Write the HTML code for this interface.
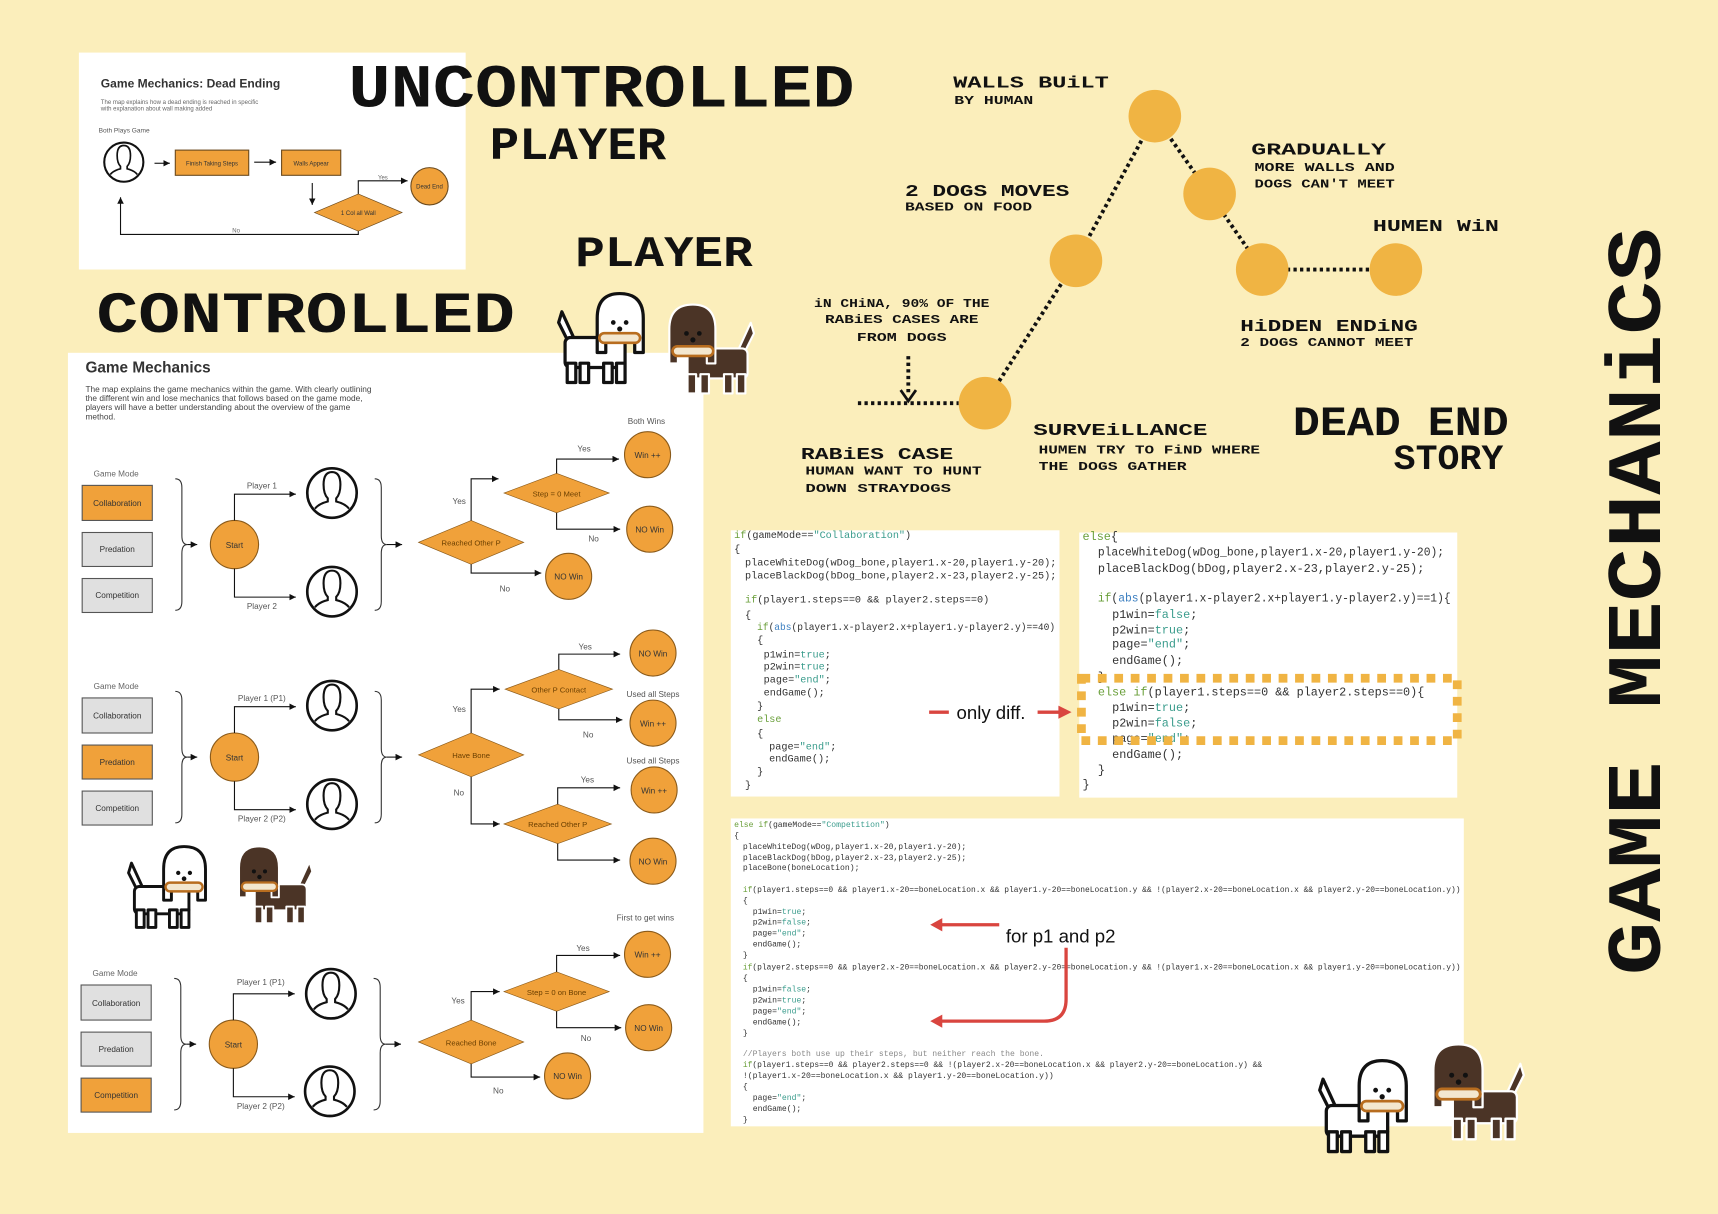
<!DOCTYPE html>
<html><head><meta charset="utf-8"><style>
html,body{margin:0;padding:0;background:#fbeebb;}
svg{display:block}
.px{font-family:"Liberation Mono",monospace;font-weight:bold;fill:#111}
.s{font-family:"Liberation Sans",sans-serif}
.c{font-family:"Liberation Mono",monospace;fill:#333}
.k{fill:#6a9f3a}.t{fill:#3a9c8c}.b{fill:#3a7ec0}.g{fill:#8a8a8a}
</style></head><body>
<svg width="1718" height="1214" viewBox="0 0 1568 1108" xmlns="http://www.w3.org/2000/svg">
<defs>
<marker id="ar" markerWidth="8" markerHeight="8" refX="6" refY="3" orient="auto" markerUnits="userSpaceOnUse"><path d="M0,0 L6,3 L0,6z" fill="#111"/></marker>
<clipPath id="pc"><circle r="22"/></clipPath>
<symbol id="person" viewBox="-25 -25 50 50" overflow="visible">
<circle r="23.5" fill="#fff" stroke="#111" stroke-width="2.5"/>
<g clip-path="url(#pc)" fill="none" stroke="#111" stroke-width="2">
<path d="M-8,-8 q0,-12 8,-12 q8,0 8,12 q0,9 -4,13 v3 q13,3 16,14 M-8,-8 q0,9 4,13 v3 q-13,3 -16,14"/>
</g>
</symbol>
<symbol id="dogshape" viewBox="0 0 90 90" overflow="visible">
<path d="M16,50 L6,30 L9,20 L20,44 Z"/>
<rect x="12" y="44" width="56" height="28" rx="5"/>
<rect x="14" y="68" width="8" height="18"/><rect x="26" y="68" width="8" height="18"/>
<rect x="48" y="68" width="8" height="18"/><rect x="60" y="68" width="8" height="18"/>
<path d="M42,58 V26 Q42,3 63,3 Q85,3 85,26 V58 H77 V42 H50 V58 Z"/>
</symbol>
<symbol id="wdog" viewBox="0 0 90 90" overflow="visible">
<use href="#dogshape" width="90" height="90" fill="#fff" stroke="#111" stroke-width="3" stroke-linejoin="round"/>
<circle cx="57" cy="30" r="2.2" fill="#111"/><circle cx="69" cy="30" r="2.2" fill="#111"/><circle cx="63" cy="36" r="2.4" fill="#111"/>
<rect x="44" y="40" width="38" height="9" rx="4.5" fill="#f3e7cf" stroke="#b86d1f" stroke-width="2.5"/>
</symbol>
<symbol id="bdog" viewBox="0 0 90 90" overflow="visible">
<g transform="translate(90,0) scale(-1,1)">
<use href="#dogshape" width="90" height="90" fill="#4b3426" stroke="#fff" stroke-width="2" stroke-linejoin="round"/>
<circle cx="57" cy="30" r="2.2" fill="#111"/><circle cx="69" cy="30" r="2.2" fill="#111"/><circle cx="63" cy="36" r="2.4" fill="#111"/>
<rect x="44" y="42" width="38" height="9" rx="4.5" fill="#f3e7cf" stroke="#b86d1f" stroke-width="2.5"/>
</g>
</symbol>
</defs>
<rect width="1568" height="1108" fill="#fbeebb"/>

<!-- Dead ending panel -->
<rect x="72" y="48" width="353" height="198" fill="#fff"/>
<g class="s">
<text x="92" y="80" font-size="11" font-weight="bold" fill="#333">Game Mechanics: Dead Ending</text>
<text x="92" y="95" font-size="5.5" fill="#666">The map explains how a dead ending is reached in specific</text>
<text x="92" y="101" font-size="5.5" fill="#666">with explanation about wall making added</text>
<text x="90" y="121" font-size="6" fill="#555">Both Plays Game</text>
<use href="#person" x="94" y="129" width="38" height="38"/>
<path d="M141,149 H155" stroke="#111" marker-end="url(#ar)"/>
<rect x="160" y="137" width="67" height="23" fill="#f0a13a" stroke="#6b4a1e"/>
<text x="193.5" y="151" font-size="5.5" text-anchor="middle" fill="#333">Finish Taking Steps</text>
<path d="M232,148 H252" stroke="#111" marker-end="url(#ar)"/>
<rect x="257" y="137" width="54" height="23" fill="#f0a13a" stroke="#6b4a1e"/>
<text x="284" y="151" font-size="5.5" text-anchor="middle" fill="#333">Walls Appear</text>
<path d="M285,167 V187" stroke="#111" marker-end="url(#ar)"/>
<polygon points="287,194 327,177 367,194 327,211" fill="#f0a13a" stroke="#6b4a1e" stroke-width=".6"/>
<text x="327" y="196" font-size="5.5" text-anchor="middle" fill="#333">1 Col all Wall</text>
<path d="M327,177 V165 H372" stroke="#111" fill="none" marker-end="url(#ar)"/>
<text x="345" y="164" font-size="5.5" fill="#666">Yes</text>
<circle cx="392" cy="170" r="17" fill="#f0a13a" stroke="#6b4a1e"/>
<text x="392" y="172" font-size="5.5" text-anchor="middle" fill="#333">Dead End</text>
<path d="M327,211 V214 H110 V180" stroke="#111" fill="none" marker-end="url(#ar)"/>
<text x="212" y="212" font-size="5.5" fill="#666">No</text>
</g>

<!-- Game Mechanics panel -->
<rect x="62" y="322" width="580" height="712" fill="#fff"/>
<g class="s">
<text x="78" y="340" font-size="14" font-weight="bold" fill="#333">Game Mechanics</text>
<text x="78" y="358" font-size="7.6" fill="#444">The map explains the game mechanics within the game. With clearly outlining</text>
<text x="78" y="366" font-size="7.6" fill="#444">the different win and lose mechanics that follows based on the game mode,</text>
<text x="78" y="374" font-size="7.6" fill="#444">players will have a better understanding about the overview of the game</text>
<text x="78" y="383" font-size="7.6" fill="#444">method.</text>
</g>

<g class="s" font-size="7.5" fill="#444">
<g>
<text x="106" y="435" text-anchor="middle" fill="#666">Game Mode</text>
<rect x="75" y="443" width="64" height="32" fill="#f0a13a" stroke="#555"/><text x="107" y="462" text-anchor="middle" fill="#333">Collaboration</text>
<rect x="75" y="486" width="64" height="31" fill="#e0e0e0" stroke="#555"/><text x="107" y="504" text-anchor="middle" fill="#333">Predation</text>
<rect x="75" y="528" width="64" height="31" fill="#e0e0e0" stroke="#555"/><text x="107" y="546" text-anchor="middle" fill="#333">Competition</text>
<path d="M160,437 q6,0 6,8 v44 q0,8 5,8 q-5,0 -5,8 v44 q0,8 -6,8" fill="none" stroke="#333"/>
<path d="M171,497 H180" stroke="#111" marker-end="url(#ar)"/>
<circle cx="214" cy="497" r="22" fill="#f0a13a" stroke="#8a5a1a"/><text x="214" y="500" text-anchor="middle" fill="#333">Start</text>
<path d="M214,475 V451 H270" fill="none" stroke="#111" marker-end="url(#ar)"/>
<path d="M214,519 V545 H270" fill="none" stroke="#111" marker-end="url(#ar)"/>
<text x="239" y="446" text-anchor="middle" fill="#555">Player 1</text>
<text x="239" y="556" text-anchor="middle" fill="#555">Player 2</text>
<use href="#person" x="279" y="426" width="48" height="48"/>
<use href="#person" x="279" y="516" width="48" height="48"/>
<path d="M342,437 q6,0 6,8 v44 q0,8 5,8 q-5,0 -5,8 v44 q0,8 -6,8" fill="none" stroke="#333"/>
<path d="M353,497 H367" stroke="#111" marker-end="url(#ar)"/>
</g>
<g transform="translate(0,194)">
<text x="106" y="435" text-anchor="middle" fill="#666">Game Mode</text>
<rect x="75" y="443" width="64" height="32" fill="#e0e0e0" stroke="#555"/><text x="107" y="462" text-anchor="middle" fill="#333">Collaboration</text>
<rect x="75" y="486" width="64" height="31" fill="#f0a13a" stroke="#555"/><text x="107" y="504" text-anchor="middle" fill="#333">Predation</text>
<rect x="75" y="528" width="64" height="31" fill="#e0e0e0" stroke="#555"/><text x="107" y="546" text-anchor="middle" fill="#333">Competition</text>
<path d="M160,437 q6,0 6,8 v44 q0,8 5,8 q-5,0 -5,8 v44 q0,8 -6,8" fill="none" stroke="#333"/>
<path d="M171,497 H180" stroke="#111" marker-end="url(#ar)"/>
<circle cx="214" cy="497" r="22" fill="#f0a13a" stroke="#8a5a1a"/><text x="214" y="500" text-anchor="middle" fill="#333">Start</text>
<path d="M214,475 V451 H270" fill="none" stroke="#111" marker-end="url(#ar)"/>
<path d="M214,519 V545 H270" fill="none" stroke="#111" marker-end="url(#ar)"/>
<text x="239" y="446" text-anchor="middle" fill="#555">Player 1 (P1)</text>
<text x="239" y="556" text-anchor="middle" fill="#555">Player 2 (P2)</text>
<use href="#person" x="279" y="426" width="48" height="48"/>
<use href="#person" x="279" y="516" width="48" height="48"/>
<path d="M342,437 q6,0 6,8 v44 q0,8 5,8 q-5,0 -5,8 v44 q0,8 -6,8" fill="none" stroke="#333"/>
<path d="M353,497 H367" stroke="#111" marker-end="url(#ar)"/>
</g>
<g transform="translate(-1,456)">
<text x="106" y="435" text-anchor="middle" fill="#666">Game Mode</text>
<rect x="75" y="443" width="64" height="32" fill="#e0e0e0" stroke="#555"/><text x="107" y="462" text-anchor="middle" fill="#333">Collaboration</text>
<rect x="75" y="486" width="64" height="31" fill="#e0e0e0" stroke="#555"/><text x="107" y="504" text-anchor="middle" fill="#333">Predation</text>
<rect x="75" y="528" width="64" height="31" fill="#f0a13a" stroke="#555"/><text x="107" y="546" text-anchor="middle" fill="#333">Competition</text>
<path d="M160,437 q6,0 6,8 v44 q0,8 5,8 q-5,0 -5,8 v44 q0,8 -6,8" fill="none" stroke="#333"/>
<path d="M171,497 H180" stroke="#111" marker-end="url(#ar)"/>
<circle cx="214" cy="497" r="22" fill="#f0a13a" stroke="#8a5a1a"/><text x="214" y="500" text-anchor="middle" fill="#333">Start</text>
<path d="M214,475 V451 H270" fill="none" stroke="#111" marker-end="url(#ar)"/>
<path d="M214,519 V545 H270" fill="none" stroke="#111" marker-end="url(#ar)"/>
<text x="239" y="443" text-anchor="middle" fill="#555">Player 1 (P1)</text>
<text x="239" y="556" text-anchor="middle" fill="#555">Player 2 (P2)</text>
<use href="#person" x="279" y="427" width="48" height="48"/>
<use href="#person" x="278" y="516" width="48" height="48"/>
<path d="M342,437 q6,0 6,8 v44 q0,8 5,8 q-5,0 -5,8 v44 q0,8 -6,8" fill="none" stroke="#333"/>
<path d="M353,497 H367" stroke="#111" marker-end="url(#ar)"/>
</g>

<polygon points="382,495 430,475 478,495 430,515" fill="#f0a13a" stroke="#8a5a1a" stroke-width=".6"/>
<text x="430" y="498" text-anchor="middle" font-size="7" fill="#6b3f00">Reached Other P</text>
<path d="M430,475 V437 H455" fill="none" stroke="#111" marker-end="url(#ar)"/><text x="413" y="460" fill="#555">Yes</text>
<path d="M430,515 V523 H494" fill="none" stroke="#111" marker-end="url(#ar)"/><text x="456" y="540" fill="#555">No</text>
<polygon points="460,450 508,432 556,450 508,468" fill="#f0a13a" stroke="#8a5a1a" stroke-width=".6"/>
<text x="508" y="453" text-anchor="middle" font-size="7" fill="#6b3f00">Step = 0 Meet</text>
<path d="M508,432 V419 H565" fill="none" stroke="#111" marker-end="url(#ar)"/><text x="527" y="412" fill="#555">Yes</text>
<path d="M508,468 V483 H566" fill="none" stroke="#111" marker-end="url(#ar)"/><text x="537" y="494" fill="#555">No</text>
<text x="590" y="387" text-anchor="middle" fill="#555">Both Wins</text>
<circle cx="591" cy="415" r="21" fill="#f0a13a" stroke="#8a5a1a"/><text x="591" y="418" text-anchor="middle" fill="#333">Win ++</text>
<circle cx="593" cy="483" r="21" fill="#f0a13a" stroke="#8a5a1a"/><text x="593" y="486" text-anchor="middle" fill="#333">NO Win</text>
<circle cx="519" cy="526" r="21" fill="#f0a13a" stroke="#8a5a1a"/><text x="519" y="529" text-anchor="middle" fill="#333">NO Win</text>

<polygon points="382,689 430,669 478,689 430,709" fill="#f0a13a" stroke="#8a5a1a" stroke-width=".6"/>
<text x="430" y="692" text-anchor="middle" font-size="7" fill="#6b3f00">Have Bone</text>
<path d="M430,669 V629 H456" fill="none" stroke="#111" marker-end="url(#ar)"/><text x="413" y="650" fill="#555">Yes</text>
<path d="M430,709 V752 H456" fill="none" stroke="#111" marker-end="url(#ar)"/><text x="414" y="726" fill="#555">No</text>
<polygon points="461,629 510,611 559,629 510,647" fill="#f0a13a" stroke="#8a5a1a" stroke-width=".6"/>
<text x="510" y="632" text-anchor="middle" font-size="7" fill="#6b3f00">Other P Contact</text>
<path d="M510,611 V597 H566" fill="none" stroke="#111" marker-end="url(#ar)"/><text x="528" y="593" fill="#555">Yes</text>
<path d="M510,647 V657 H568" fill="none" stroke="#111" marker-end="url(#ar)"/><text x="532" y="673" fill="#555">No</text>
<text x="596" y="636" text-anchor="middle" fill="#555">Used all Steps</text>
<circle cx="596" cy="596" r="21" fill="#f0a13a" stroke="#8a5a1a"/><text x="596" y="599" text-anchor="middle" fill="#333">NO Win</text>
<circle cx="596" cy="660" r="21" fill="#f0a13a" stroke="#8a5a1a"/><text x="596" y="663" text-anchor="middle" fill="#333">Win ++</text>
<polygon points="460,752 509,734 558,752 509,770" fill="#f0a13a" stroke="#8a5a1a" stroke-width=".6"/>
<text x="509" y="755" text-anchor="middle" font-size="7" fill="#6b3f00">Reached Other P</text>
<path d="M509,734 V719 H566" fill="none" stroke="#111" marker-end="url(#ar)"/><text x="530" y="714" fill="#555">Yes</text>
<path d="M509,770 V785 H566" fill="none" stroke="#111" marker-end="url(#ar)"/>
<text x="596" y="697" text-anchor="middle" fill="#555">Used all Steps</text>
<circle cx="597" cy="721" r="21" fill="#f0a13a" stroke="#8a5a1a"/><text x="597" y="724" text-anchor="middle" fill="#333">Win ++</text>
<circle cx="596" cy="786" r="21" fill="#f0a13a" stroke="#8a5a1a"/><text x="596" y="789" text-anchor="middle" fill="#333">NO Win</text>

<polygon points="382,951 430,931 478,951 430,971" fill="#f0a13a" stroke="#8a5a1a" stroke-width=".6"/>
<text x="430" y="954" text-anchor="middle" font-size="7" fill="#6b3f00">Reached Bone</text>
<path d="M430,931 V905 H456" fill="none" stroke="#111" marker-end="url(#ar)"/><text x="412" y="916" fill="#555">Yes</text>
<path d="M430,971 V983 H493" fill="none" stroke="#111" marker-end="url(#ar)"/><text x="450" y="998" fill="#555">No</text>
<polygon points="460,905 508,887 556,905 508,923" fill="#f0a13a" stroke="#8a5a1a" stroke-width=".6"/>
<text x="508" y="908" text-anchor="middle" font-size="7" fill="#6b3f00">Step = 0 on Bone</text>
<path d="M508,887 V872 H566" fill="none" stroke="#111" marker-end="url(#ar)"/><text x="526" y="868" fill="#555">Yes</text>
<path d="M508,923 V938 H567" fill="none" stroke="#111" marker-end="url(#ar)"/><text x="530" y="950" fill="#555">No</text>
<text x="589" y="840" text-anchor="middle" fill="#555">First to get wins</text>
<circle cx="591" cy="871" r="21" fill="#f0a13a" stroke="#8a5a1a"/><text x="591" y="874" text-anchor="middle" fill="#333">Win ++</text>
<circle cx="592" cy="938" r="21" fill="#f0a13a" stroke="#8a5a1a"/><text x="592" y="941" text-anchor="middle" fill="#333">NO Win</text>
<circle cx="518" cy="982" r="21" fill="#f0a13a" stroke="#8a5a1a"/><text x="518" y="985" text-anchor="middle" fill="#333">NO Win</text>
</g>

<text class="px" x="318" y="97" font-size="56" textLength="462" lengthAdjust="spacingAndGlyphs">UNCONTROLLED</text>
<text class="px" x="447" y="145" font-size="42" textLength="161" lengthAdjust="spacingAndGlyphs">PLAYER</text>
<text class="px" x="525" y="243" font-size="40" textLength="162" lengthAdjust="spacingAndGlyphs">PLAYER</text>
<text class="px" x="88" y="303" font-size="53" textLength="382" lengthAdjust="spacingAndGlyphs">CONTROLLED</text>
<text class="px" x="1180" y="397" font-size="38" textLength="197" lengthAdjust="spacingAndGlyphs">DEAD END</text>
<text class="px" x="1272" y="428" font-size="32" textLength="100" lengthAdjust="spacingAndGlyphs">STORY</text>
<text class="px" transform="translate(1515,890) rotate(-90)" font-size="70" textLength="682" lengthAdjust="spacingAndGlyphs">GAME MECHANiCS</text>

<g stroke="#111" stroke-width="3.5" stroke-dasharray="3 3" fill="none">
<path d="M899,368 L982,238 L1054,106 L1104,177 L1152,246 L1274,246"/>
<path d="M783,368 H875"/>
<path d="M829,325 V360"/>
</g>
<path d="M822,356 L829,366 L836,356" fill="none" stroke="#111" stroke-width="2.5"/>
<g fill="#f0b443">
<circle cx="1054" cy="106" r="24"/><circle cx="1104" cy="177" r="24"/><circle cx="982" cy="238" r="24"/>
<circle cx="1152" cy="246" r="24"/><circle cx="1274" cy="246" r="24"/><circle cx="899" cy="368" r="24"/>
</g>
<g class="px">
<text x="870" y="80" font-size="15" textLength="142" lengthAdjust="spacingAndGlyphs">WALLS BUiLT</text>
<text x="871" y="95" font-size="11" textLength="72" lengthAdjust="spacingAndGlyphs">BY HUMAN</text>
<text x="1142" y="141" font-size="15" textLength="123" lengthAdjust="spacingAndGlyphs">GRADUALLY</text>
<text x="1145" y="156" font-size="11" textLength="128" lengthAdjust="spacingAndGlyphs">MORE WALLS AND</text>
<text x="1145" y="171" font-size="11" textLength="128" lengthAdjust="spacingAndGlyphs">DOGS CAN'T MEET</text>
<text x="826" y="179" font-size="15" textLength="150" lengthAdjust="spacingAndGlyphs">2 DOGS MOVES</text>
<text x="826" y="192" font-size="11" textLength="116" lengthAdjust="spacingAndGlyphs">BASED ON FOOD</text>
<text x="1253" y="211" font-size="15" textLength="115" lengthAdjust="spacingAndGlyphs">HUMEN WiN</text>
<text x="743" y="280" font-size="11" textLength="160" lengthAdjust="spacingAndGlyphs">iN CHiNA, 90% OF THE</text>
<text x="753" y="295" font-size="11" textLength="140" lengthAdjust="spacingAndGlyphs">RABiES CASES ARE</text>
<text x="782" y="311" font-size="11" textLength="82" lengthAdjust="spacingAndGlyphs">FROM DOGS</text>
<text x="1132" y="302" font-size="15" textLength="162" lengthAdjust="spacingAndGlyphs">HiDDEN ENDiNG</text>
<text x="1132" y="316" font-size="11" textLength="158" lengthAdjust="spacingAndGlyphs">2 DOGS CANNOT MEET</text>
<text x="943" y="397" font-size="15" textLength="159" lengthAdjust="spacingAndGlyphs">SURVEiLLANCE</text>
<text x="948" y="414" font-size="11" textLength="202" lengthAdjust="spacingAndGlyphs">HUMEN TRY TO FiND WHERE</text>
<text x="948" y="429" font-size="11" textLength="135" lengthAdjust="spacingAndGlyphs">THE DOGS GATHER</text>
<text x="731" y="419" font-size="15" textLength="139" lengthAdjust="spacingAndGlyphs">RABiES CASE</text>
<text x="735" y="433" font-size="11" textLength="161" lengthAdjust="spacingAndGlyphs">HUMAN WANT TO HUNT</text>
<text x="735" y="449" font-size="11" textLength="133" lengthAdjust="spacingAndGlyphs">DOWN STRAYDOGS</text>
</g>

<rect x="667" y="484" width="300" height="243" fill="#fff"/>
<g class="c" font-size="9.3">
<text x="670" y="491"><tspan class="k">if</tspan>(gameMode==<tspan class="t">"Collaboration"</tspan>)</text>
<text x="670" y="504">{</text>
<text x="680" y="516">placeWhiteDog(wDog_bone,player1.x-20,player1.y-20);</text>
<text x="680" y="528">placeBlackDog(bDog_bone,player2.x-23,player2.y-25);</text>
<text x="680" y="550"><tspan class="k">if</tspan>(player1.steps==0 &amp;&amp; player2.steps==0)</text>
<text x="680" y="564">{</text>
<text x="691" y="575" textLength="272" lengthAdjust="spacingAndGlyphs"><tspan class="k">if</tspan>(<tspan class="b">abs</tspan>(player1.x-player2.x+player1.y-player2.y)==40)</text>
<text x="691" y="587">{</text>
<text x="697" y="600">p1win=<tspan class="t">true</tspan>;</text>
<text x="697" y="611">p2win=<tspan class="t">true</tspan>;</text>
<text x="697" y="623">page=<tspan class="t">"end"</tspan>;</text>
<text x="697" y="635">endGame();</text>
<text x="691" y="647">}</text>
<text x="691" y="659" class="k">else</text>
<text x="691" y="672">{</text>
<text x="702" y="684">page=<tspan class="t">"end"</tspan>;</text>
<text x="702" y="695">endGame();</text>
<text x="691" y="707">}</text>
<text x="680" y="719">}</text>
</g>

<rect x="985" y="486" width="345" height="242" fill="#fff"/>
<g class="c" font-size="10.8">
<text x="988" y="493"><tspan class="k">else</tspan>{</text>
<text x="1002" y="507" textLength="316" lengthAdjust="spacingAndGlyphs">placeWhiteDog(wDog_bone,player1.x-20,player1.y-20);</text>
<text x="1002" y="522">placeBlackDog(bDog,player2.x-23,player2.y-25);</text>
<text x="1002" y="549" textLength="322" lengthAdjust="spacingAndGlyphs"><tspan class="k">if</tspan>(<tspan class="b">abs</tspan>(player1.x-player2.x+player1.y-player2.y)==1){</text>
<text x="1015" y="564">p1win=<tspan class="t">false</tspan>;</text>
<text x="1015" y="578">p2win=<tspan class="t">true</tspan>;</text>
<text x="1015" y="591">page=<tspan class="t">"end"</tspan>;</text>
<text x="1015" y="606">endGame();</text>
<text x="1002" y="621">}</text>
<text x="1002" y="635"><tspan class="k">else if</tspan>(player1.steps==0 &amp;&amp; player2.steps==0){</text>
<text x="1015" y="649">p1win=<tspan class="t">true</tspan>;</text>
<text x="1015" y="663">p2win=<tspan class="t">false</tspan>;</text>
<text x="1015" y="677">page=<tspan class="t">"end"</tspan>;</text>
<text x="1015" y="692">endGame();</text>
<text x="1002" y="706">}</text>
<text x="988" y="719">}</text>
</g>
<path d="M987,619 H1330 V676 H987 Z" fill="none" stroke="#f0b443" stroke-width="8" stroke-dasharray="8 7"/>
<path d="M848,650 H866" stroke="#d9453f" stroke-width="3"/>
<text class="s" x="873" y="656" font-size="17" fill="#111">only diff.</text>
<path d="M947,650 H968" stroke="#d9453f" stroke-width="3"/>
<path d="M966,644 L978,650 L966,656z" fill="#d9453f"/>

<rect x="667" y="747" width="669" height="281" fill="#fff"/>
<g class="c" font-size="7.4">
<text x="670" y="755"><tspan class="k">else if</tspan>(gameMode==<tspan class="t">"Competition"</tspan>)</text>
<text x="670" y="765">{</text>
<text x="678" y="775">placeWhiteDog(wDog,player1.x-20,player1.y-20);</text>
<text x="678" y="785">placeBlackDog(bDog,player2.x-23,player2.y-25);</text>
<text x="678" y="794">placeBone(boneLocation);</text>
<text x="678" y="814" textLength="655" lengthAdjust="spacingAndGlyphs"><tspan class="k">if</tspan>(player1.steps==0 &amp;&amp; player1.x-20==boneLocation.x &amp;&amp; player1.y-20==boneLocation.y &amp;&amp; !(player2.x-20==boneLocation.x &amp;&amp; player2.y-20==boneLocation.y))</text>
<text x="678" y="824">{</text>
<text x="687" y="834">p1win=<tspan class="t">true</tspan>;</text>
<text x="687" y="844">p2win=<tspan class="t">false</tspan>;</text>
<text x="687" y="854">page=<tspan class="t">"end"</tspan>;</text>
<text x="687" y="864">endGame();</text>
<text x="678" y="874">}</text>
<text x="678" y="885" textLength="655" lengthAdjust="spacingAndGlyphs"><tspan class="k">if</tspan>(player2.steps==0 &amp;&amp; player2.x-20==boneLocation.x &amp;&amp; player2.y-20==boneLocation.y &amp;&amp; !(player1.x-20==boneLocation.x &amp;&amp; player1.y-20==boneLocation.y))</text>
<text x="678" y="895">{</text>
<text x="687" y="905">p1win=<tspan class="t">false</tspan>;</text>
<text x="687" y="915">p2win=<tspan class="t">true</tspan>;</text>
<text x="687" y="925">page=<tspan class="t">"end"</tspan>;</text>
<text x="687" y="935">endGame();</text>
<text x="678" y="945">}</text>
<text x="678" y="964" class="g">//Players both use up their steps, but neither reach the bone.</text>
<text x="678" y="974" textLength="474" lengthAdjust="spacingAndGlyphs"><tspan class="k">if</tspan>(player1.steps==0 &amp;&amp; player2.steps==0 &amp;&amp; !(player2.x-20==boneLocation.x &amp;&amp; player2.y-20==boneLocation.y) &amp;&amp;</text>
<text x="678" y="984">!(player1.x-20==boneLocation.x &amp;&amp; player1.y-20==boneLocation.y))</text>
<text x="678" y="994">{</text>
<text x="687" y="1004">page=<tspan class="t">"end"</tspan>;</text>
<text x="687" y="1014">endGame();</text>
<text x="678" y="1024">}</text>
</g>
<path d="M912,844 H858" stroke="#d9453f" stroke-width="3"/>
<path d="M860,838 L849,844 L860,850z" fill="#d9453f"/>
<path d="M973,865 V912 Q973,932 953,932 H858" fill="none" stroke="#d9453f" stroke-width="3"/>
<path d="M860,926 L849,932 L860,938z" fill="#d9453f"/>
<text class="s" x="918" y="860" font-size="17" fill="#111">for p1 and p2</text>

<!-- Dogs on top -->
<use href="#wdog" x="503" y="265" width="90" height="88"/>
<use href="#bdog" x="605" y="275" width="90" height="88"/>
<use href="#wdog" x="110" y="770" width="84" height="80"/>
<use href="#bdog" x="210" y="770" width="84" height="76"/>
<use href="#wdog" x="1197" y="965" width="93" height="90"/>
<use href="#bdog" x="1300" y="950" width="100" height="94"/>
</svg>
</body></html>
